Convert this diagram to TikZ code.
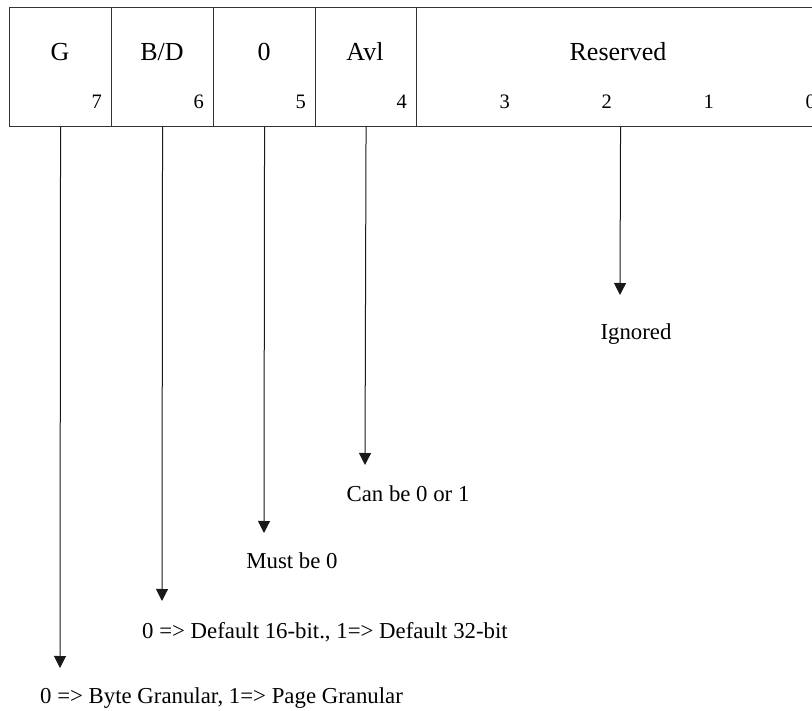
\documentclass[tikz,border=0pt]{standalone}
\usepackage{fontspec}
\setmainfont{Liberation Serif}
\usetikzlibrary{arrows.meta}
\begin{document}
\begin{tikzpicture}[x=1pt,y=-1pt,
  field/.style={draw=black!80, line width=1.1pt, minimum height=119pt, inner sep=0pt, anchor=north west, rectangle},
  ftext/.style={font=\fontsize{26}{31}\selectfont, inner sep=0pt, text=black},
  bitnum/.style={font=\fontsize{20.5}{24}\selectfont, inner sep=0pt, anchor=base east, text=black},
  note/.style={font=\fontsize{22.8}{27}\selectfont, inner sep=0pt, anchor=base, text=black},
  arr/.style={draw=black!90, line width=1pt, -{Triangle[length=12pt,width=12pt]}}]
\useasboundingbox (0,0) rectangle (812,711);
\clip (0,0) rectangle (812,711);
% fields
\node[field, minimum width=102pt] (fG) at (9,7) {};
\node[field, minimum width=102pt] (fBD) at (111,7) {};
\node[field, minimum width=102pt] (f0) at (213,7) {};
\node[field, minimum width=101pt] (fAvl) at (315,7) {};
\node[field, minimum width=408pt] (fRes) at (416,7) {};
% field labels
\node[ftext] (lG) at (60,52) {G};
\node[ftext] (lBD) at (162,52) {B/D};
\node[ftext] (l0) at (264,52) {0};
\node[ftext] (lAvl) at (365,52) {Avl};
\node[ftext] (lRes) at (618,52) {Reserved};
% bit numbers
\node[bitnum] (b7) at (102,109) {7};
\node[bitnum] (b6) at (204,109) {6};
\node[bitnum] (b5) at (306,109) {5};
\node[bitnum] (b4) at (407,109) {4};
\node[bitnum] (b3) at (510,109) {3};
\node[bitnum] (b2) at (612,109) {2};
\node[bitnum] (b1) at (714,109) {1};
\node[bitnum] (b0) at (816,109) {0};
% arrow ends
\coordinate (tG) at (60,668);
\coordinate (tBD) at (162,601);
\coordinate (t0) at (264,533);
\coordinate (tAvl) at (365,465);
\coordinate (tRes) at (620,295);
\draw[arr] (fG.south) -- (tG);
\draw[arr] (fBD.south) -- (tBD);
\draw[arr] (f0.south) -- (t0);
\draw[arr] (fAvl.south) -- (tAvl);
\draw[arr] (fRes.south) -- (tRes);
% notes
\node[note] (nRes) at (636,340) {Ignored};
\node[note] (nAvl) at (408,501) {Can be 0 or 1};
\node[note] (n0) at (292,568) {Must be 0};
\node[note, anchor=base west] (nBD) at (142,638) {0 => Default 16-bit., 1=> Default 32-bit};
\node[note, anchor=base west] (nG) at (40,703) {0 => Byte Granular, 1=> Page Granular};
\end{tikzpicture}
\end{document}
